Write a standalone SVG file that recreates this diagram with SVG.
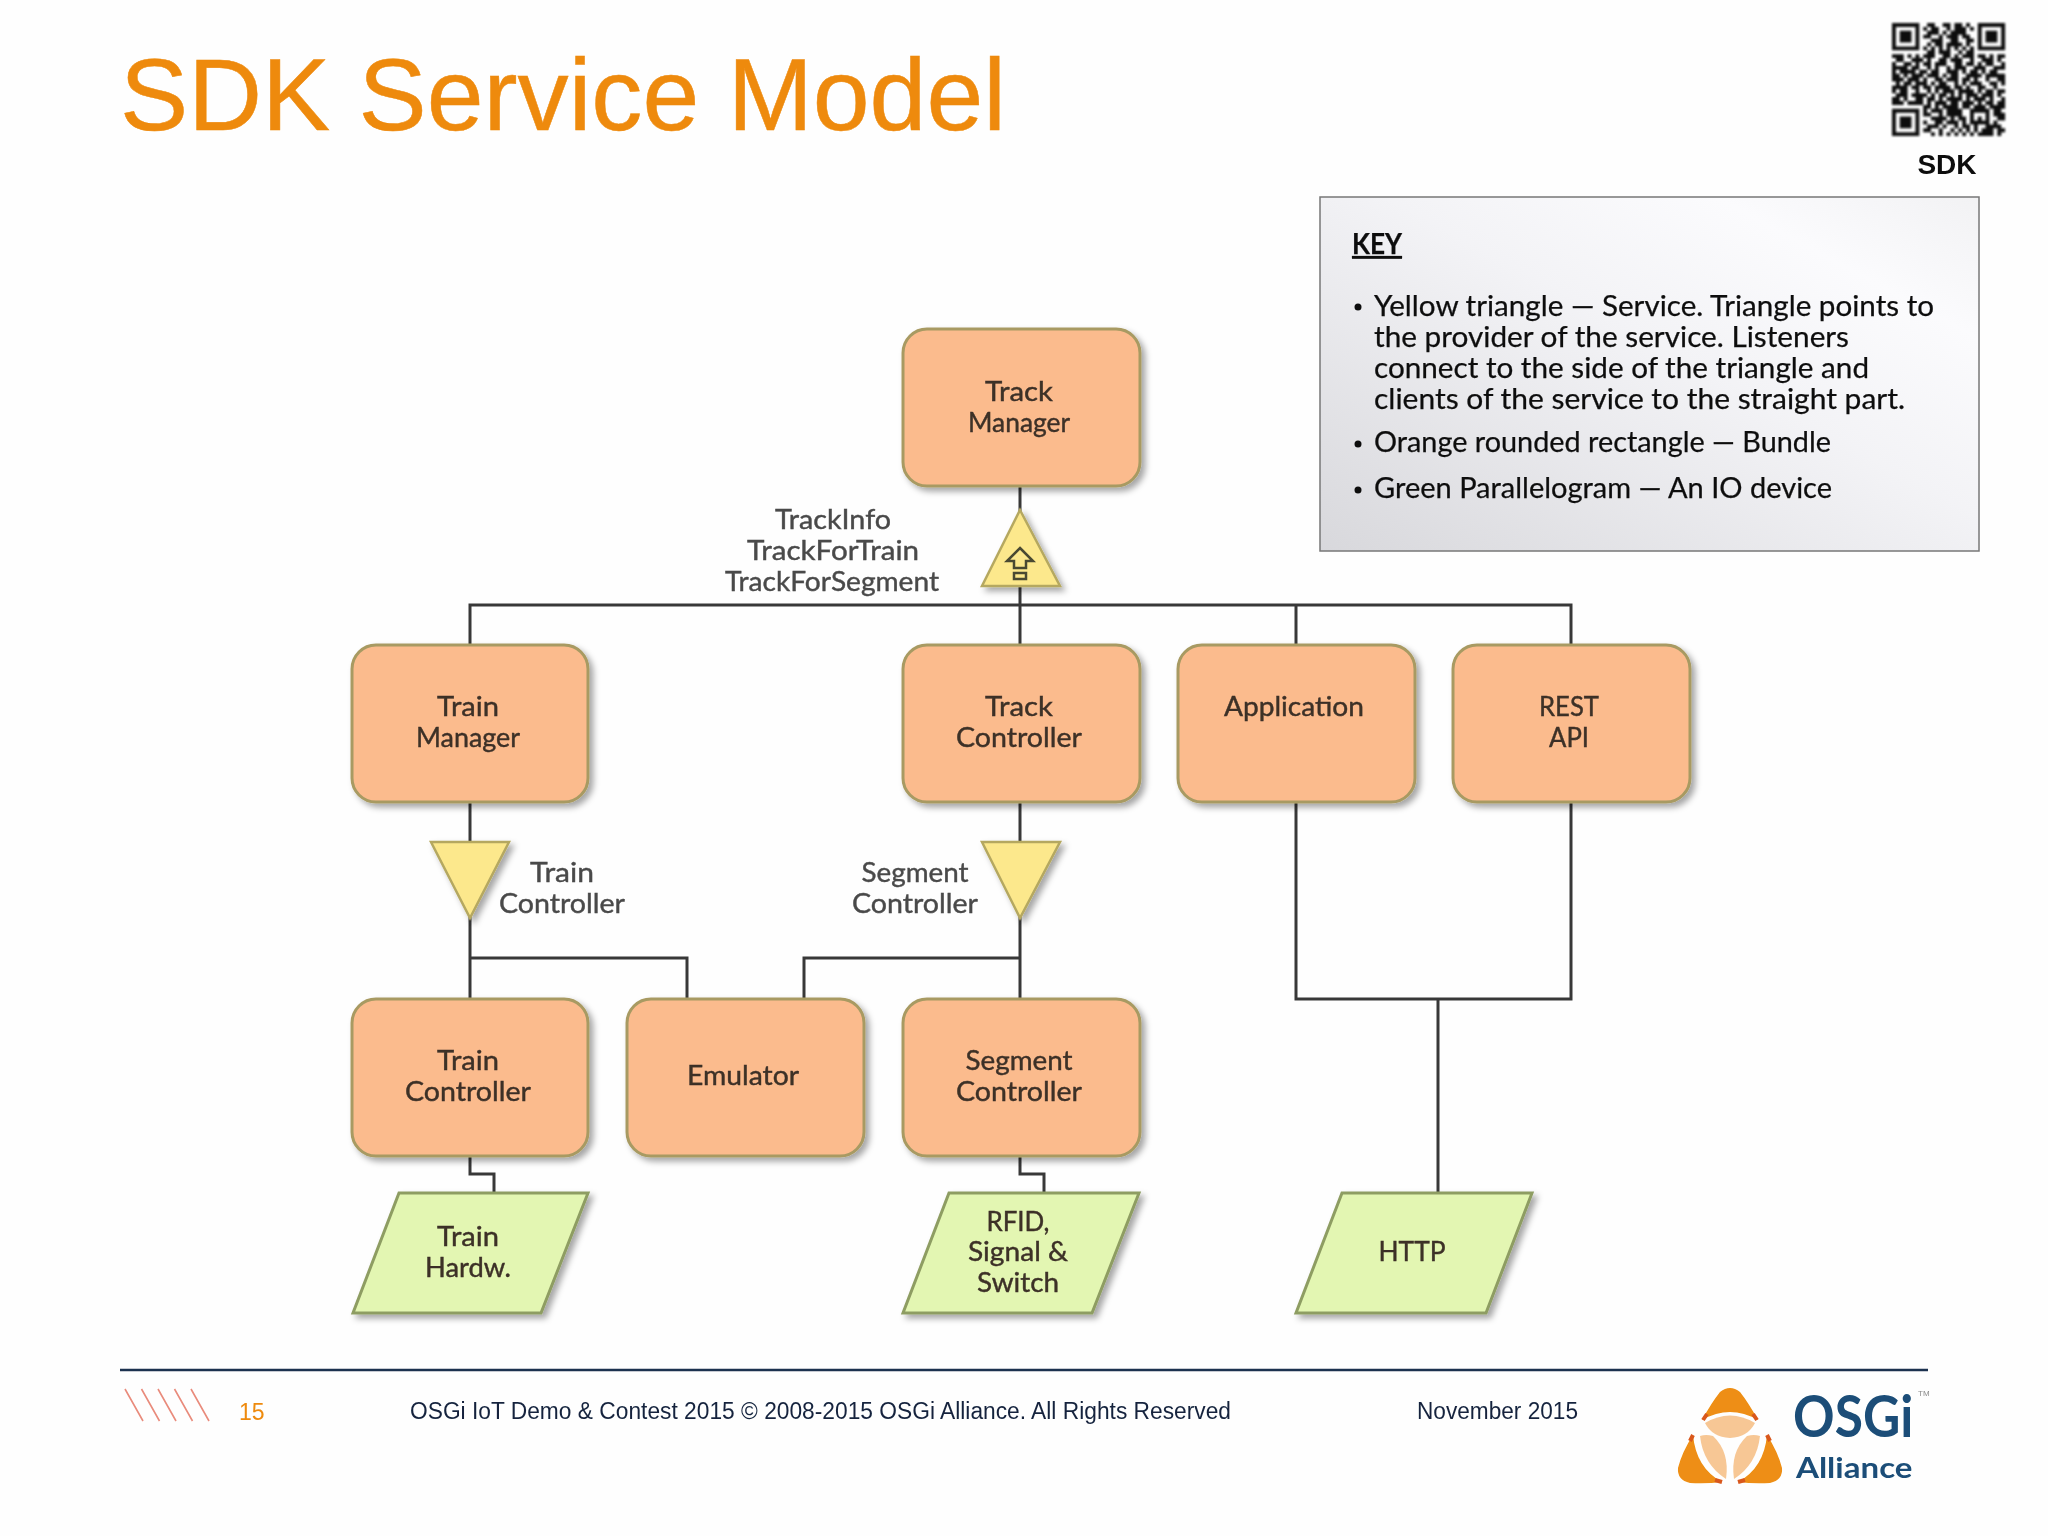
<svg xmlns="http://www.w3.org/2000/svg" width="2048" height="1536" viewBox="0 0 2048 1536">
<style>
.bundle{fill:#FBBB8D;stroke:#A89A62;stroke-width:3;filter:url(#sh)}
.tri{fill:#FCE88C;stroke:#B5A860;stroke-width:2.5;filter:url(#sh)}
.io{fill:#E3F6B2;stroke:#8E9D62;stroke-width:3;filter:url(#sh)}
.wire{fill:none;stroke:#383838;stroke-width:3}
.n{font-family:"Lato","Noto Sans",sans-serif;font-size:26px;fill:#3C3028;text-anchor:middle;stroke:#3C3028;stroke-width:.4}
.l{font-family:"Lato","Noto Sans",sans-serif;font-size:26px;fill:#4A4A4A;text-anchor:middle;stroke:#4A4A4A;stroke-width:.4}
.k{font-family:"Lato","Noto Sans",sans-serif;font-size:28px;fill:#111;stroke:#111;stroke-width:.25}
.f{font-family:"Liberation Sans",Arial,sans-serif;font-size:23px;fill:#14243E}
</style>
<defs>
<filter id="sh" x="-15%" y="-15%" width="135%" height="135%"><feDropShadow dx="4" dy="4" stdDeviation="3" flood-color="#000" flood-opacity=".35"/></filter>
<filter id="soft" x="-5%" y="-5%" width="110%" height="110%"><feGaussianBlur stdDeviation=".8"/></filter>
<filter id="cap" filterUnits="userSpaceOnUse" x="0" y="0" width="2048" height="1536"><feGaussianBlur stdDeviation=".55"/></filter>
<linearGradient id="keyg" x1="0" y1="1" x2="1" y2="0"><stop offset="0" stop-color="#D8D8DC"/><stop offset=".55" stop-color="#F3F3F6"/><stop offset=".8" stop-color="#FBFBFD"/><stop offset="1" stop-color="#F2F2F4"/></linearGradient>
<g id="pet"><path d="M1693 1435Q1682 1452 1678 1468Q1677 1480 1690 1483Q1706 1484 1722 1482Q1696 1468 1693 1435Z" fill="#EE8E12"/><path d="M1700 1436Q1703 1464 1726 1479Q1730 1452 1713 1436Q1706 1434 1700 1436Z" fill="#F7C795"/></g>
</defs>
<rect width="2048" height="1536" fill="#FEFEFE"/>
<g id="page" filter="url(#cap)">
<text id="title" x="120" y="130" font-family="Liberation Sans,Arial,sans-serif" font-size="102" fill="#EE8A0B" stroke="#EE8A0B" stroke-width=".5" textLength="886" lengthAdjust="spacingAndGlyphs">SDK Service Model</text>
<g id="qr" filter="url(#soft)">
<path fill="#111" fill-rule="evenodd" transform="translate(1892 23) scale(3.9)" d="M0 0h7v7h-7zM1 1v5h5v-5zM2 2h3v3h-3zM22 0h7v7h-7zM23 1v5h5v-5zM24 2h3v3h-3zM0 22h7v7h-7zM1 23v5h5v-5zM2 24h3v3h-3z"/>
<path fill="none" stroke="#111" stroke-width="1" transform="translate(1892 23) scale(3.9)" d="M9 .5h2M13 .5h2M16 .5h2M19 .5h1M8 1.5h1M10 1.5h2M14 1.5h1M16 1.5h3M20 1.5h1M9 2.5h3M13 2.5h1M15 2.5h4M8 3.5h2M12 3.5h1M14 3.5h3M18 3.5h2M10 4.5h3M15 4.5h2M19 4.5h2M9 5.5h1M11 5.5h2M14 5.5h4M19 5.5h1M8 6.5h1M10 6.5h1M12 6.5h1M14 6.5h1M16 6.5h1M18 6.5h1M20 6.5h1M9 7.5h2M12 7.5h3M17 7.5h1M19 7.5h2M0 8.5h3M4 8.5h1M6 8.5h1M8 8.5h3M13 8.5h2M16 8.5h1M18 8.5h3M22 8.5h2M25 8.5h1M27 8.5h2M1 9.5h2M5 9.5h3M9 9.5h1M12 9.5h2M15 9.5h3M20 9.5h1M23 9.5h3M27 9.5h1M0 10.5h1M3 10.5h2M6 10.5h1M8 10.5h2M11 10.5h3M16 10.5h2M19 10.5h2M22 10.5h1M24 10.5h2M28 10.5h1M0 11.5h4M5 11.5h2M9 11.5h1M11 11.5h1M14 11.5h1M16 11.5h3M21 11.5h3M26 11.5h3M0 12.5h1M2 12.5h4M7 12.5h2M10 12.5h2M14 12.5h3M18 12.5h1M20 12.5h2M23 12.5h1M25 12.5h2M0 13.5h2M3 13.5h1M5 13.5h3M9 13.5h3M13 13.5h1M15 13.5h2M19 13.5h4M24 13.5h5M0 14.5h3M4 14.5h3M8 14.5h1M11 14.5h2M14 14.5h3M18 14.5h2M21 14.5h1M24 14.5h1M27 14.5h2M1 15.5h1M3 15.5h2M6 15.5h3M10 15.5h1M12 15.5h2M16 15.5h1M18 15.5h1M20 15.5h3M25 15.5h2M28 15.5h1M0 16.5h4M5 16.5h2M8 16.5h2M11 16.5h4M16 16.5h2M19 16.5h1M22 16.5h2M26 16.5h1M0 17.5h1M2 17.5h2M6 17.5h1M9 17.5h1M11 17.5h1M13 17.5h3M17 17.5h4M22 17.5h1M24 17.5h2M27 17.5h2M1 18.5h3M5 18.5h4M10 18.5h1M12 18.5h2M15 18.5h1M17 18.5h1M19 18.5h3M23 18.5h3M27 18.5h1M0 19.5h2M3 19.5h1M6 19.5h2M9 19.5h2M12 19.5h1M14 19.5h4M19 19.5h1M21 19.5h3M25 19.5h1M28 19.5h1M0 20.5h3M4 20.5h4M9 20.5h1M11 20.5h3M15 20.5h2M18 20.5h3M22 20.5h1M24 20.5h2M27 20.5h2M8 21.5h2M11 21.5h1M13 21.5h4M18 21.5h2M21 21.5h3M25 21.5h4M8 22.5h1M10 22.5h3M14 22.5h4M20 22.5h5M26 22.5h2M8 23.5h2M12 23.5h1M14 23.5h4M20 23.5h1M24 23.5h1M26 23.5h3M10 24.5h4M15 24.5h1M17 24.5h2M20 24.5h1M22 24.5h1M24 24.5h1M27 24.5h2M8 25.5h1M11 25.5h2M14 25.5h3M18 25.5h1M20 25.5h5M26 25.5h1M9 26.5h3M13 26.5h1M16 26.5h1M18 26.5h2M21 26.5h1M24 26.5h4M8 27.5h2M12 27.5h1M15 27.5h1M17 27.5h1M19 27.5h1M21 27.5h1M23 27.5h3M27 27.5h2M10 28.5h1M12 28.5h1M14 28.5h1M16 28.5h1M18 28.5h1M20 28.5h1M22 28.5h4M27 28.5h1"/>
</g>
<text id="qr-label" x="1947" y="174" font-family="Liberation Sans,Arial,sans-serif" font-weight="700" font-size="28" fill="#111" text-anchor="middle">SDK</text>
<g id="key">
<rect x="1320" y="197" width="659" height="354" fill="url(#keyg)" stroke="#777" stroke-width="1.5"/>
<text class="k" x="1352" y="254" textLength="50" lengthAdjust="spacingAndGlyphs" text-decoration="underline" font-weight="700">KEY</text>
<circle cx="1358" cy="307" r="3.5" fill="#111"/><circle cx="1358" cy="444" r="3.5" fill="#111"/><circle cx="1358" cy="490" r="3.5" fill="#111"/>
<text class="k" x="1374" y="316" textLength="560" lengthAdjust="spacingAndGlyphs">Yellow triangle — Service. Triangle points to</text>
<text class="k" x="1374" y="347" textLength="475" lengthAdjust="spacingAndGlyphs">the provider of the service. Listeners</text>
<text class="k" x="1374" y="378" textLength="495" lengthAdjust="spacingAndGlyphs">connect to the side of the triangle and</text>
<text class="k" x="1374" y="409" textLength="531" lengthAdjust="spacingAndGlyphs">clients of the service to the straight part.</text>
<text class="k" x="1374" y="452" textLength="457" lengthAdjust="spacingAndGlyphs">Orange rounded rectangle — Bundle</text>
<text class="k" x="1374" y="498" textLength="458" lengthAdjust="spacingAndGlyphs">Green Parallelogram — An IO device</text>
</g>
<g id="connectors" class="wire">
<path d="M1020 486V644"/>
<path d="M470 644V605H1571V644"/>
<path d="M1296 605V644"/>
<path d="M470 802V998"/>
<path d="M470 958H687V998"/>
<path d="M1020 802V998"/>
<path d="M1020 958H804V998"/>
<path d="M470 1156V1174H494V1192"/>
<path d="M1020 1156V1174H1044V1192"/>
<path d="M1296 802V999H1571V802"/>
<path d="M1438 999V1192"/>
</g>
<g id="track-manager"><rect class="bundle" x="903" y="329" width="237" height="157" rx="24"/><text class="n" x="1019" y="401" textLength="68" lengthAdjust="spacingAndGlyphs">Track</text><text class="n" x="1019" y="432" textLength="102" lengthAdjust="spacingAndGlyphs">Manager</text></g>
<g id="service-track"><path class="tri" d="M1020 510L1060 586H982Z"/><path d="M1020 548L1033 561H1026V568H1014V561H1007Z" fill="#FCE88C" stroke="#4A4A30" stroke-width="2.5"/><rect x="1014" y="573" width="12" height="6" fill="#FCE88C" stroke="#4A4A30" stroke-width="2.5"/>
<text class="l" x="833" y="529" textLength="116" lengthAdjust="spacingAndGlyphs">TrackInfo</text><text class="l" x="833" y="560" textLength="172" lengthAdjust="spacingAndGlyphs">TrackForTrain</text><text class="l" x="832" y="591" textLength="214" lengthAdjust="spacingAndGlyphs">TrackForSegment</text></g>
<g id="train-manager"><rect class="bundle" x="352" y="645" width="236" height="157" rx="24"/><text class="n" x="468" y="716" textLength="62" lengthAdjust="spacingAndGlyphs">Train</text><text class="n" x="468" y="747" textLength="104" lengthAdjust="spacingAndGlyphs">Manager</text></g>
<g id="track-controller"><rect class="bundle" x="903" y="645" width="237" height="157" rx="24"/><text class="n" x="1019" y="716" textLength="68" lengthAdjust="spacingAndGlyphs">Track</text><text class="n" x="1019" y="747" textLength="126" lengthAdjust="spacingAndGlyphs">Controller</text></g>
<g id="application"><rect class="bundle" x="1178" y="645" width="237" height="157" rx="24"/><text class="n" x="1294" y="716" textLength="140" lengthAdjust="spacingAndGlyphs">Application</text></g>
<g id="rest-api"><rect class="bundle" x="1453" y="645" width="237" height="157" rx="24"/><text class="n" x="1569" y="716" textLength="60" lengthAdjust="spacingAndGlyphs">REST</text><text class="n" x="1569" y="747" textLength="40" lengthAdjust="spacingAndGlyphs">API</text></g>
<g id="service-train"><path class="tri" d="M431 842H509L470 918Z"/><text class="l" x="562" y="882" textLength="64" lengthAdjust="spacingAndGlyphs">Train</text><text class="l" x="562" y="913" textLength="126" lengthAdjust="spacingAndGlyphs">Controller</text></g>
<g id="service-segment"><path class="tri" d="M982 842H1060L1020 918Z"/><text class="l" x="915" y="882" textLength="107" lengthAdjust="spacingAndGlyphs">Segment</text><text class="l" x="915" y="913" textLength="126" lengthAdjust="spacingAndGlyphs">Controller</text></g>
<g id="train-controller"><rect class="bundle" x="352" y="999" width="236" height="157" rx="24"/><text class="n" x="468" y="1070" textLength="62" lengthAdjust="spacingAndGlyphs">Train</text><text class="n" x="468" y="1101" textLength="126" lengthAdjust="spacingAndGlyphs">Controller</text></g>
<g id="emulator"><rect class="bundle" x="627" y="999" width="237" height="157" rx="24"/><text class="n" x="743" y="1085" textLength="112" lengthAdjust="spacingAndGlyphs">Emulator</text></g>
<g id="segment-controller"><rect class="bundle" x="903" y="999" width="237" height="157" rx="24"/><text class="n" x="1019" y="1070" textLength="107" lengthAdjust="spacingAndGlyphs">Segment</text><text class="n" x="1019" y="1101" textLength="126" lengthAdjust="spacingAndGlyphs">Controller</text></g>
<g id="train-hardw"><path class="io" d="M399 1193H588L541 1313H353Z"/><text class="n" x="468" y="1246" textLength="62" lengthAdjust="spacingAndGlyphs">Train</text><text class="n" x="468" y="1277" textLength="86" lengthAdjust="spacingAndGlyphs">Hardw.</text></g>
<g id="rfid"><path class="io" d="M949 1193H1139L1092 1313H903Z"/><text class="n" x="1018" y="1231" textLength="63" lengthAdjust="spacingAndGlyphs">RFID,</text><text class="n" x="1018" y="1261" textLength="100" lengthAdjust="spacingAndGlyphs">Signal &amp;</text><text class="n" x="1018" y="1292" textLength="82" lengthAdjust="spacingAndGlyphs">Switch</text></g>
<g id="http"><path class="io" d="M1342 1193H1532L1486 1313H1296Z"/><text class="n" x="1412" y="1261" textLength="67" lengthAdjust="spacingAndGlyphs">HTTP</text></g>
<g id="footer">
<path d="M120 1370H1928" stroke="#1B3350" stroke-width="2.5"/>
<path d="M125 1389L143 1421M141.500 1389L159.500 1421M158 1389L176 1421M174.500 1389L192.500 1421M191 1389L209 1421" stroke="#E98B7C" stroke-width="1.6" fill="none"/>
<text x="239" y="1420" font-family="Liberation Sans,Arial,sans-serif" font-size="23" fill="#EE8A0B">15</text>
<text class="f" x="410" y="1419" textLength="821" lengthAdjust="spacingAndGlyphs">OSGi IoT Demo &amp; Contest 2015 © 2008-2015 OSGi Alliance. All Rights Reserved</text>
<text class="f" x="1417" y="1419" textLength="161" lengthAdjust="spacingAndGlyphs">November 2015</text>
</g>
<g id="logo">
<path d="M1702 1420Q1712 1402 1720 1392Q1730 1384 1740 1392Q1748 1402 1758 1420Q1730 1404 1702 1420Z" fill="#EE8E12"/>
<path d="M1705 1423Q1730 1408 1755 1423Q1748 1437 1730 1438Q1712 1437 1705 1423Z" fill="#F7C795"/>
<use href="#pet"/>
<use href="#pet" transform="matrix(-1 0 0 1 3460 0)"/>
<path d="M1703 1420l4-6M1757 1420l-4-6M1693 1435l-3 6M1767 1435l3 6M1722 1482l-7-2M1738 1482l7-2" stroke="#D9581F" stroke-width="4" fill="none"/>
<text transform="translate(1793 1437) scale(.904 1)" font-family="Lato,sans-serif" font-weight="700" font-size="57" fill="#1A4E78">OSGi</text>
<text transform="translate(1796 1478) scale(1.14 1)" font-family="Lato,sans-serif" font-weight="700" font-size="29" fill="#1A4E78">Alliance</text>
<text x="1918" y="1396" font-family="Liberation Sans,Arial,sans-serif" font-size="8" fill="#8A8A8A">TM</text>
</g>
</g>
</svg>
